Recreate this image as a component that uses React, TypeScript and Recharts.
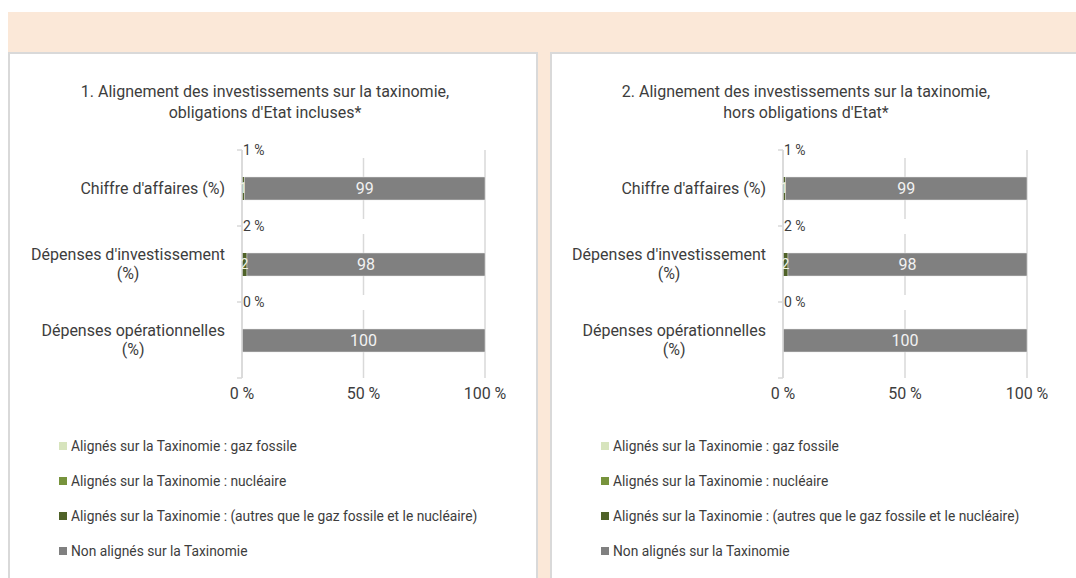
import React from 'react';
import { BarChart, Bar, XAxis, YAxis, CartesianGrid, LabelList } from 'recharts';

const FONT = 'Roboto, "Noto Sans", sans-serif';
const TEXT = '#3d3d3d';
const GRID = '#d9d9d9';

const categories = ["Chiffre d'affaires (%)", "Dépenses d'investissement (%)", 'Dépenses opérationnelles (%)'];

// chart 1 : obligations d'Etat incluses
const fossil1 = [0, 0, 0];
const nuclear1 = [0, 0, 0];
const other1 = [1, 2, 0];
const nonAligned1 = [99, 98, 100];

// chart 2 : hors obligations d'Etat
const fossil2 = [0, 0, 0];
const nuclear2 = [0, 0, 0];
const other2 = [1, 2, 0];
const nonAligned2 = [99, 98, 100];

const xTicks = [0, 50, 100];

const series = [
  { key: 'fossil', name: 'Alignés sur la Taxinomie : gaz fossile', color: '#d7e4bd' },
  { key: 'nuclear', name: 'Alignés sur la Taxinomie : nucléaire', color: '#77933c' },
  { key: 'other', name: 'Alignés sur la Taxinomie : (autres que le gaz fossile et le nucléaire)', color: '#4f6228' },
  { key: 'non', name: 'Non alignés sur la Taxinomie', color: '#808080' },
];

const PLOT_H = 228;

let ctx: CanvasRenderingContext2D | null = null;
function measure(s: string, size: number) {
  if (!ctx) ctx = document.createElement('canvas').getContext('2d');
  if (!ctx) return s.length * size * 0.5;
  ctx.font = `${size}px ${FONT}`;
  return ctx.measureText(s).width;
}

function wrap(label: string, size: number, maxW: number) {
  const words = label.split(' ');
  const lines: string[] = [];
  let cur = '';
  words.forEach((w) => {
    const next = cur ? cur + ' ' + w : w;
    if (cur && measure(next, size) > maxW) {
      lines.push(cur);
      cur = w;
    } else cur = next;
  });
  if (cur) lines.push(cur);
  return lines;
}

function CategoryTick(props: any) {
  const { x, y, payload, index, visibleTicksCount } = props;
  const band = PLOT_H / categories.length;
  const size = 16;
  const lines = wrap(payload.value, size, 208);
  const w = Math.max(...lines.map((l) => measure(l, size)));
  const cx = x - 17 - w / 2;
  const lh = 19;
  const y0 = y - ((lines.length - 1) * lh) / 2;
  return (
    <g>
      <line x1={x - 5} x2={x} y1={y - band / 2} y2={y - band / 2} stroke={GRID} strokeWidth={1.5} />
      {index === visibleTicksCount - 1 && (
        <line x1={x - 5} x2={x} y1={y + band / 2} y2={y + band / 2} stroke={GRID} strokeWidth={1.5} />
      )}
      <text textAnchor="middle" fontSize={size} fill={TEXT} fontFamily={FONT}>
        {lines.map((l, i) => (
          <tspan key={i} x={cx} y={y0 + i * lh} dy="0.35em">
            {l}
          </tspan>
        ))}
      </text>
    </g>
  );
}

// label "x %" drawn above each bar, starting at the 0 % line
function makeAlignedLabel(totals: number[], nonAligned: number[]) {
  return function AlignedLabel(props: any) {
    const { x, y, width, index } = props;
    const unit = nonAligned[index] ? width / nonAligned[index] : 0;
    const x0 = x - totals[index] * unit;
    return (
      <g>
        <rect x={x0 + 2} y={y - 34} width={140} height={15} fill="#ffffff" />
        <text x={x0 + 1} y={y - 27} dy="0.35em" fontSize={14} fill={TEXT} fontFamily={FONT}>
          {`${totals[index]} %`}
        </text>
      </g>
    );
  };
}

interface ChartProps {
  left: number;
  width: number;
  axisWidth: number;
  rightMargin: number;
  fossil: number[];
  nuclear: number[];
  other: number[];
  nonAligned: number[];
}

function TaxoChart({ left, width, axisWidth, rightMargin, fossil, nuclear, other, nonAligned }: ChartProps) {
  const data = categories.map((name, i) => ({
    name,
    fossil: fossil[i],
    nuclear: nuclear[i],
    other: other[i],
    non: nonAligned[i],
  }));
  const totals = categories.map((_, i) => fossil[i] + nuclear[i] + other[i]);
  const hideZero = (v: any) => (Number(v) > 0 ? v : '');

  return (
    <div style={{ position: 'absolute', left, top: 140 }}>
      <BarChart
        width={width}
        height={270}
        data={data}
        layout="vertical"
        barSize={23}
        margin={{ top: 10, right: rightMargin, bottom: 2, left: 0 }}
      >
        <CartesianGrid horizontal={false} stroke={GRID} strokeWidth={1.5} />
        <XAxis
          type="number"
          domain={[0, 100]}
          ticks={xTicks}
          tickFormatter={(v) => `${v} %`}
          axisLine={false}
          tickLine={false}
          tickMargin={4}
          tick={{ fontSize: 16, fill: TEXT, fontFamily: FONT }}
        />
        <YAxis
          type="category"
          dataKey="name"
          width={axisWidth}
          tickSize={0}
          tickMargin={0}
          tickLine={false}
          axisLine={{ stroke: GRID, strokeWidth: 1.5 }}
          interval={0}
          tick={<CategoryTick />}
        />
        <Bar dataKey="fossil" stackId="a" fill={series[0].color} isAnimationActive={false} />
        <Bar dataKey="nuclear" stackId="a" fill={series[1].color} isAnimationActive={false}>
          <LabelList dataKey="nuclear" position="center" fill="#eef2e4" fontSize={14} fontFamily={FONT} formatter={hideZero} />
        </Bar>
        <Bar dataKey="other" stackId="a" fill={series[2].color} isAnimationActive={false}>
          <LabelList dataKey="other" position="center" fill="#eef2e4" fontSize={14} fontFamily={FONT} formatter={hideZero} />
        </Bar>
        <Bar dataKey="non" stackId="a" fill={series[3].color} stroke="#e6e6e6" strokeWidth={0.5} isAnimationActive={false}>
          <LabelList dataKey="non" position="center" fill="#f2f2f2" fontSize={16} fontFamily={FONT} formatter={hideZero} />
          <LabelList dataKey="non" content={makeAlignedLabel(totals, nonAligned)} />
        </Bar>
      </BarChart>
    </div>
  );
}

function Legend({ left }: { left: number }) {
  return (
    <div style={{ position: 'absolute', left, top: 437, fontFamily: FONT, fontSize: 13.8, color: TEXT }}>
      {series.map((s) => (
        <div key={s.key} style={{ height: 35, display: 'flex', alignItems: 'flex-start' }}>
          <span style={{ display: 'inline-block', width: 8, height: 8, background: s.color, marginTop: 5, marginRight: 4 }} />
          <span style={{ lineHeight: '18px' }}>{s.name}</span>
        </div>
      ))}
    </div>
  );
}

function Title({ cx, lines }: { cx: number; lines: string[] }) {
  return (
    <div
      style={{
        position: 'absolute',
        left: cx - 250,
        top: 81,
        width: 500,
        textAlign: 'center',
        fontFamily: FONT,
        fontSize: 16,
        lineHeight: '21px',
        color: TEXT,
      }}
    >
      {lines.map((l) => (
        <div key={l}>{l}</div>
      ))}
    </div>
  );
}

export default function App() {
  return (
    <div style={{ position: 'absolute', left: 0, top: 0, width: 1076, height: 578, overflow: 'hidden', background: '#ffffff' }}>
      <div style={{ position: 'absolute', left: 8, top: 12, width: 1068, height: 566, background: '#fbe8d8' }} />
      <div
        style={{
          position: 'absolute', left: 8, top: 52, width: 530, height: 540, background: '#fff',
          border: `2px solid ${GRID}`, borderBottom: 'none', boxSizing: 'border-box',
        }}
      />
      <div
        style={{
          position: 'absolute', left: 550, top: 52, width: 540, height: 540, background: '#fff',
          border: `2px solid ${GRID}`, borderBottom: 'none', boxSizing: 'border-box',
        }}
      />
      <Title cx={265} lines={['1. Alignement des investissements sur la taxinomie,', "obligations d'Etat incluses*"]} />
      <Title cx={806} lines={['2. Alignement des investissements sur la taxinomie,', "hors obligations d'Etat*"]} />
      <TaxoChart left={8} width={530} axisWidth={234} rightMargin={53}
        fossil={fossil1} nuclear={nuclear1} other={other1} nonAligned={nonAligned1} />
      <TaxoChart left={550} width={526} axisWidth={233} rightMargin={49}
        fossil={fossil2} nuclear={nuclear2} other={other2} nonAligned={nonAligned2} />
      <Legend left={59} />
      <Legend left={601} />
    </div>
  );
}
